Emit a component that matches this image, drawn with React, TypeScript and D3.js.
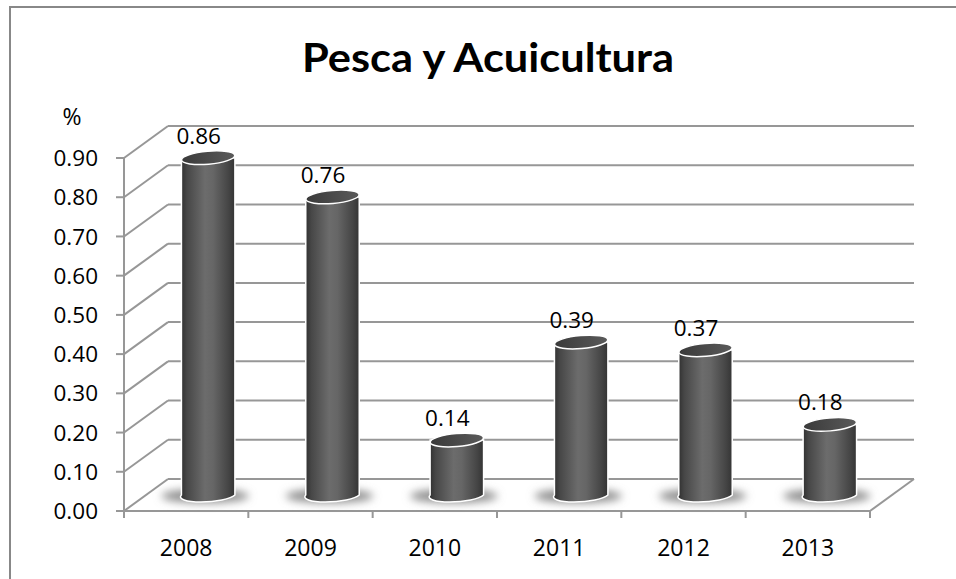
import React from "react";
import * as d3 from "d3";

const years = ["2008", "2009", "2010", "2011", "2012", "2013"];
const values = [0.86, 0.76, 0.14, 0.39, 0.37, 0.18];
const yTicks = [0, 0.1, 0.2, 0.3, 0.4, 0.5, 0.6, 0.7, 0.8, 0.9];
const title = "Pesca y Acuicultura";
const unitLabel = "%";

const W = 956;
const H = 579;
const DX = 44;
const DY = -32;
const FONT = "'Open Sans', Lato, sans-serif";
const TFONT = "Lato, 'Open Sans', sans-serif";

export default function App() {
  const x = d3.scaleBand<string>().domain(years).range([124, 870]);
  const y = d3.scaleLinear().domain([0, 0.9]).range([511, 158]);
  const fmt = d3.format(".2f");
  const bw = x.bandwidth();
  const barW = bw * 0.43;
  const rx = barW / 2;
  const ry = 6.5;
  const grid = "#979797";

  return (
    <svg
      width={W}
      height={H}
      style={{ position: "absolute", left: 0, top: 0, background: "#fff" }}
      fontFamily={FONT}
    >
      <defs>
        <linearGradient id="body" x1="0" x2="1" y1="0" y2="0">
          <stop offset="0%" stopColor="#2e2e2e" />
          <stop offset="12%" stopColor="#474747" />
          <stop offset="45%" stopColor="#6c6c6c" />
          <stop offset="60%" stopColor="#666666" />
          <stop offset="88%" stopColor="#454545" />
          <stop offset="100%" stopColor="#343434" />
        </linearGradient>
        <linearGradient id="top" x1="0" x2="1" y1="0" y2="0">
          <stop offset="0%" stopColor="#3a3a3a" />
          <stop offset="100%" stopColor="#5a5a5a" />
        </linearGradient>
        <filter id="blur" x="-50%" y="-100%" width="200%" height="300%">
          <feGaussianBlur stdDeviation="4" />
        </filter>
      </defs>

      <rect x={10} y={7} width={W + 20} height={H + 20} fill="none" stroke="#888" strokeWidth={2} />

      <text
        x={488}
        y={72}
        textAnchor="middle"
        fontSize={41}
        fontWeight="bold"
        fontFamily={TFONT}
        textLength={372}
        lengthAdjust="spacingAndGlyphs"
      >
        {title}
      </text>
      <text x={72} y={125} textAnchor="middle" fontSize={23}>
        {unitLabel}
      </text>

      {/* side wall diagonals and back wall gridlines */}
      {yTicks.map((v) => (
        <g key={v}>
          <line x1={124} y1={y(v)} x2={124 + DX} y2={y(v) + DY} stroke={grid} strokeWidth={2} />
          <line x1={124 + DX} y1={y(v) + DY} x2={870 + DX} y2={y(v) + DY} stroke={grid} strokeWidth={2} />
          <line x1={116} y1={y(v)} x2={124} y2={y(v)} stroke={grid} strokeWidth={2} />
          <text x={98} y={y(v)} dy="0.36em" textAnchor="end" fontSize={22.5}>
            {fmt(v)}
          </text>
        </g>
      ))}
      {/* front axis line */}
      <line x1={124} y1={y(0.9)} x2={124} y2={y(0) + 7} stroke={grid} strokeWidth={2} />
      {/* floor */}
      <line x1={124} y1={y(0)} x2={870} y2={y(0)} stroke={grid} strokeWidth={2} />
      <line x1={870} y1={y(0)} x2={870 + DX} y2={y(0) + DY} stroke={grid} strokeWidth={2} />
      {years.map((yr) => (
        <line key={"t" + yr} x1={(x(yr) as number) + bw} y1={y(0)} x2={(x(yr) as number) + bw} y2={y(0) + 7} stroke={grid} strokeWidth={2} />
      ))}
      {years.map((yr) => (
        <text key={"l" + yr} x={(x(yr) as number) + bw / 2} y={556} textAnchor="middle" fontSize={23}>
          {yr}
        </text>
      ))}

      {/* shadows */}
      {years.map((yr) => {
        const cx = (x(yr) as number) + bw / 2 + DX / 2;
        const cyB = y(0) + DY / 2;
        return (
          <ellipse key={"s" + yr} cx={cx - 3} cy={cyB + 1} rx={rx + 17} ry={7} fill="#8e8e8e" filter="url(#blur)" />
        );
      })}

      {/* bars */}
      {years.map((yr, i) => {
        const cx = (x(yr) as number) + bw / 2 + DX / 2;
        const cyT = y(values[i]) + DY / 2;
        const cyB = y(0) + DY / 2;
        const body = `M${cx - rx},${cyT} L${cx - rx},${cyB} A${rx},${ry} -4 0 0 ${cx + rx},${cyB} L${cx + rx},${cyT} Z`;
        return (
          <g key={"b" + yr}>
            <path d={body} fill="url(#body)" stroke="#fff" strokeWidth={1.5} />
            <ellipse
              cx={cx}
              cy={cyT}
              rx={rx}
              ry={ry}
              transform={`rotate(-5 ${cx} ${cyT})`}
              fill="url(#top)"
              stroke="#fff"
              strokeWidth={1.5}
            />
            <text x={cx - 9.5} y={cyT - 14} textAnchor="middle" fontSize={22.5}>
              {fmt(values[i])}
            </text>
          </g>
        );
      })}
    </svg>
  );
}
